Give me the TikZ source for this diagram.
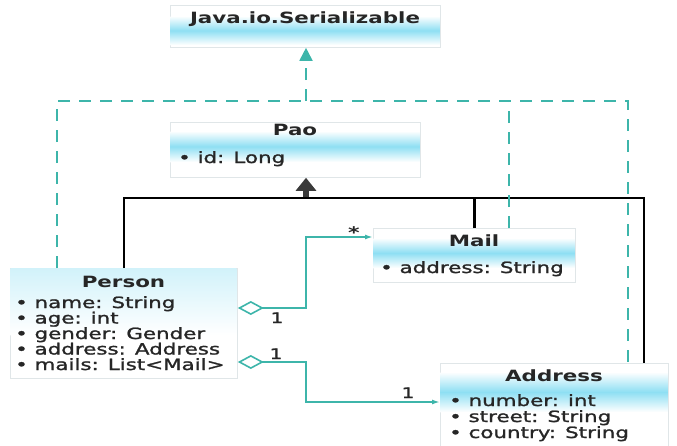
\documentclass[tikz,border=0pt]{standalone}
\usepackage{fontspec}
\newfontfamily\umlf{DejaVu Sans}[FakeStretch=1.38]
\newfontfamily\umlm{DejaVu Sans}[FakeStretch=1.38, FakeBold=1.4]
\usetikzlibrary{arrows.meta}
\definecolor{tealc}{HTML}{3DB5AA}
\definecolor{band}{HTML}{8EDFF3}
\definecolor{boxline}{HTML}{E0E6E8}
\definecolor{inhc}{HTML}{3A3A3A}
\definecolor{txt}{HTML}{262626}
\begin{document}
\begin{tikzpicture}[x=1pt,y=-1pt,
  box/.style={draw=boxline, line width=0.8pt, fill=white, rectangle, inner sep=0pt, anchor=north west},
  ttl/.style={font=\umlf\fontsize{15.5}{18}\selectfont\bfseries, text=txt, anchor=base, inner sep=0pt},
  attr/.style={font=\umlm\fontsize{15.5}{18}\selectfont, text=txt, anchor=base west, inner sep=0pt},
  lbl/.style={font=\umlm\fontsize{14.5}{17}\selectfont, text=txt, inner sep=0pt, anchor=base},
  bandshade/.style={top color=white, bottom color=white, middle color=band},
  realline/.style={draw=tealc, line width=1.8pt, dash pattern=on 12pt off 9pt},
  realtip/.style={realline, -{Triangle[length=13pt,width=13pt]}},
  inhline/.style={draw=black, line width=2.6pt},
  inhtip/.style={draw=inhc, line width=6pt, -{Triangle[length=13pt,width=20pt]}},
  agg/.style={draw=tealc, line width=1.6pt, {Diamond[length=26pt,width=14pt,fill=white]}-{Latex[length=8pt,width=5pt]}}
]
\useasboundingbox (0,0) rectangle (677,445);

% boxes
\node[box, minimum width=270pt, minimum height=42pt] (ser) at (170,5) {};
\node[box, minimum width=250pt, minimum height=55pt] (pao) at (170,122) {};
\node[box, minimum width=202pt, minimum height=54pt] (mail) at (373,228) {};
\node[box, minimum width=227pt, minimum height=110pt] (person) at (10,268) {};
\node[box, minimum width=228pt, minimum height=85pt] (addr) at (440,363) {};

% gradient bands
\shade[bandshade] (170.6,16) rectangle (439.4,45);
\shade[bandshade] (170.6,131) rectangle (419.4,162);
\shade[bandshade] (373.6,238) rectangle (574.6,268);
\shade[bandshade, top color=band!40] (10.6,268.6) rectangle (236.4,335);
\shade[bandshade] (440.6,372) rectangle (667.4,412);

% texts
\node[ttl] (sert) at (305,23) {Java.io.Serializable};
\node[ttl] (paot) at (295,135) {Pao};
\node[attr] (paoa) at (178,163) {• id: Long};
\node[ttl] (mailt) at (474,246) {Mail};
\node[attr] (maila) at (380,273) {• address: String};
\node[ttl] (persont) at (123.5,287) {Person};
\node[attr] (pa1) at (15,308) {• name: String};
\node[attr] (pa2) at (15,323.5) {• age: int};
\node[attr] (pa3) at (15,339) {• gender: Gender};
\node[attr] (pa4) at (15,354.5) {• address: Address};
\node[attr] (pa5) at (15,370) {• mails: List<Mail>};
\node[ttl] (addrt) at (554,381) {Address};
\node[attr] (aa1) at (449,406) {• number: int};
\node[attr] (aa2) at (449,422) {• street: String};
\node[attr] (aa3) at (449,438) {• country: String};

% inheritance (solid)
\coordinate (bus) at (306,198);
\draw[inhline] (person.north) |- (bus) -| ([xshift=-25pt]addr.north east);
\draw[inhline] (mail.north) -- (mail.north |- bus);
\draw[inhtip] ([yshift=1.3pt]bus) -- (pao.south -| bus);

% realization (dashed)
\coordinate (rbus) at (306,101);
\draw[realline] ([xshift=47pt]person.north west) |- (rbus) -| ([xshift=-41pt]addr.north east);
\draw[realline] ([xshift=-67pt]mail.north east) -- ([xshift=-67pt]mail.north east |- rbus);
\draw[realtip] (rbus) -- (ser.south -| rbus);

% aggregations
\draw[agg] ([yshift=-40pt]person.north east) -- ++(68,0) |- ([yshift=-9pt]mail.north west);
\draw[agg] ([yshift=-94pt]person.north east) -- ++(68,0) |- ([yshift=-39pt]addr.north west);

% multiplicities
\node[lbl, font=\umlf\fontsize{16}{18}\selectfont\bfseries] (m1) at (354,238) {*};
\node[lbl] (m2) at (277,323) {1};
\node[lbl] (m3) at (276,359) {1};
\node[lbl] (m4) at (408,398) {1};
\end{tikzpicture}
\end{document}
